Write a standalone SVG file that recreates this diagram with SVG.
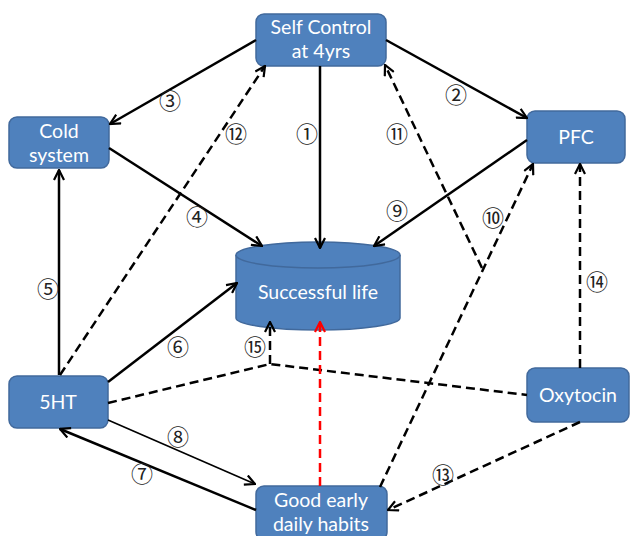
<svg xmlns="http://www.w3.org/2000/svg" width="630" height="536" viewBox="0 0 630 536">
<style>
.box{fill:#4F81BD;stroke:#41699C;stroke-width:1.5}
.t{fill:#fff;font-family:Lato,"Liberation Sans",sans-serif;font-size:19.5px;text-anchor:middle}
.c{stroke:#000;stroke-width:2.5;fill:none}
.d{stroke:#000;stroke-width:2.5;fill:none;stroke-dasharray:9 5}
.lbl{font-family:"Noto Sans CJK JP","DejaVu Sans",sans-serif;font-size:22px;text-anchor:middle;fill:#222}
</style>
<defs>
<marker id="a" viewBox="0 0 12 12" refX="11" refY="6" markerWidth="12" markerHeight="12" markerUnits="userSpaceOnUse" orient="auto"><path d="M1,1 L11,6 L1,11" fill="none" stroke="#000" stroke-width="2.2"/></marker>
<marker id="ar" viewBox="0 0 12 12" refX="11" refY="6" markerWidth="12" markerHeight="12" markerUnits="userSpaceOnUse" orient="auto"><path d="M1,1 L11,6 L1,11" fill="none" stroke="#f00" stroke-width="2.2"/></marker>
</defs>
<rect width="630" height="536" fill="#fff"/>
<g id="self-control">
<rect class="box" x="256" y="14" width="130" height="52" rx="8"/>
<text class="t" x="321" y="34">Self Control</text>
<text class="t" x="321" y="58">at 4yrs</text>
</g>
<g id="cold-system">
<rect class="box" x="9" y="117" width="100" height="51" rx="8"/>
<text class="t" x="59" y="138">Cold</text>
<text class="t" x="59" y="162">system</text>
</g>
<g id="pfc">
<rect class="box" x="527" y="111" width="98" height="52" rx="8"/>
<text class="t" x="576" y="144">PFC</text>
</g>
<g id="successful-life">
<path class="box" d="M236,255 L236,318 A82,12 0 0 0 400,318 L400,255"/>
<ellipse class="box" cx="318" cy="255" rx="82" ry="13"/>
<text class="t" x="318" y="299">Successful life</text>
</g>
<g id="5ht">
<rect class="box" x="9" y="376" width="99" height="52" rx="8"/>
<text class="t" x="58" y="409">5HT</text>
</g>
<g id="oxytocin">
<rect class="box" x="527" y="368" width="102" height="54" rx="8"/>
<text class="t" x="578" y="402">Oxytocin</text>
</g>
<g id="good-habits">
<rect class="box" x="256" y="486" width="131" height="54" rx="8"/>
<text class="t" x="321" y="507">Good early</text>
<text class="t" x="321" y="531">daily habits</text>
</g>
<g id="connectors">
<line class="c" x1="320" y1="66" x2="320" y2="248" marker-end="url(#a)"/>
<line class="c" x1="386" y1="40" x2="527" y2="118" marker-end="url(#a)"/>
<line class="c" x1="256" y1="40" x2="110" y2="124" marker-end="url(#a)"/>
<line class="c" x1="109" y1="148" x2="262" y2="246" marker-end="url(#a)"/>
<line class="c" x1="59" y1="375" x2="59" y2="170" marker-end="url(#a)"/>
<line class="c" x1="108" y1="382" x2="237" y2="283" marker-end="url(#a)"/>
<line class="c" x1="256" y1="510" x2="60" y2="429" marker-end="url(#a)"/>
<line class="c" style="stroke-width:1.6" x1="108" y1="420" x2="255" y2="484" marker-end="url(#a)"/>
<line class="c" x1="527" y1="140" x2="374" y2="246" marker-end="url(#a)"/>
<line class="d" x1="380" y1="487" x2="533" y2="164" marker-end="url(#a)"/>
<line class="d" x1="482" y1="268" x2="385" y2="65" marker-end="url(#a)"/>
<line class="d" x1="60" y1="375" x2="265" y2="66" marker-end="url(#a)"/>
<line class="d" x1="580" y1="422" x2="388" y2="510" marker-end="url(#a)"/>
<line class="d" x1="580" y1="368" x2="580" y2="164" marker-end="url(#a)"/>
<polyline class="d" points="108,403 270,364 527,395"/>
<line class="d" x1="270" y1="364" x2="270" y2="322" marker-end="url(#a)"/>
<line class="d" style="stroke:#f00" x1="320" y1="486" x2="320" y2="322" marker-end="url(#ar)"/>
</g>
<g id="labels">
<text class="lbl" x="307" y="142">①</text>
<text class="lbl" x="456" y="103">②</text>
<text class="lbl" x="170" y="109">③</text>
<text class="lbl" x="197" y="225">④</text>
<text class="lbl" x="48" y="297">⑤</text>
<text class="lbl" x="178" y="355">⑥</text>
<text class="lbl" x="142" y="482">⑦</text>
<text class="lbl" x="178" y="445">⑧</text>
<text class="lbl" x="397" y="219">⑨</text>
<text class="lbl" x="493" y="226">⑩</text>
<text class="lbl" x="397" y="142">⑪</text>
<text class="lbl" x="236" y="142">⑫</text>
<text class="lbl" x="443" y="483">⑬</text>
<text class="lbl" x="597" y="290">⑭</text>
<text class="lbl" x="255" y="355">⑮</text>
</g>
</svg>
